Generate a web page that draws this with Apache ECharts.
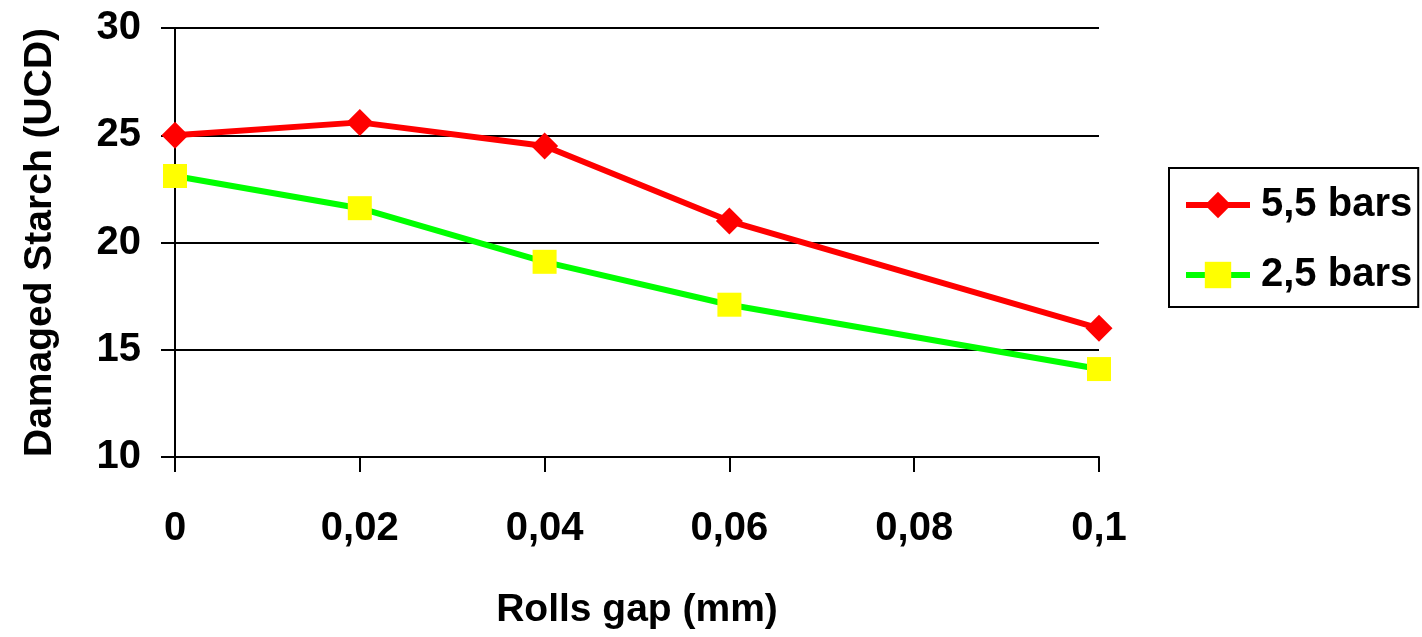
<!DOCTYPE html>
<html>
<head>
<meta charset="utf-8">
<script src="https://cdn.jsdelivr.net/npm/echarts@6/dist/echarts.min.js"></script>
<style>html,body{margin:0;padding:0;background:#fff}#c{width:1422px;height:637px}</style>
</head>
<body>
<div id="c"></div>
<script>
const gaps = [0, 0.02, 0.04, 0.06, 0.1];
const bars55 = [25.0, 25.6, 24.5, 21.0, 16.0];
const bars25 = [23.1, 21.6, 19.1, 17.1, 14.1];
const seriesNames = ['5,5 bars', '2,5 bars'];
const xTitle = 'Rolls gap (mm)';
const yTitle = 'Damaged Starch (UCD)';

const FONT = '"Liberation Sans Narrow", "Liberation Sans", Arial, sans-serif';
const chart = echarts.init(document.getElementById('c'), null, {renderer: 'canvas'});
chart.setOption({
  animation: false,
  backgroundColor: '#fff',
  grid: {left: 175, right: 323, top: 28, bottom: 180, containLabel: false, outerBoundsMode: 'none'},
  xAxis: {
    type: 'value', min: 0, max: 0.1, interval: 0.02,
    name: xTitle, nameLocation: 'middle', nameGap: 134,
    nameTextStyle: {fontFamily: FONT, fontWeight: 'bold', fontSize: 39, color: '#000'},
    axisLine: {lineStyle: {color: '#000', width: 2}},
    axisTick: {show: true, length: 15, lineStyle: {color: '#000', width: 2}},
    axisLabel: {fontFamily: FONT, fontWeight: 'bold', fontSize: 40, color: '#000', margin: 52,
      formatter: v => String(+v.toFixed(2)).replace('.', ',')},
    splitLine: {show: false}
  },
  yAxis: {
    type: 'value', min: 10, max: 30, interval: 5,
    name: yTitle, nameLocation: 'middle', nameGap: 115, nameRotate: 90,
    nameTextStyle: {fontFamily: FONT, fontWeight: 'bold', fontSize: 39, color: '#000'},
    axisLine: {show: true, lineStyle: {color: '#000', width: 2}},
    axisTick: {show: true, length: 14, lineStyle: {color: '#000', width: 2}},
    axisLabel: {fontFamily: FONT, fontWeight: 'bold', fontSize: 40, color: '#000', margin: 34},
    splitLine: {show: true, lineStyle: {color: '#000', width: 2}}
  },
  legend: {
    orient: 'vertical', left: 1169, top: 168,
    padding: [17, 6, 12, 14], itemGap: 30,
    itemWidth: 64, itemHeight: 33,
    borderColor: '#000', borderWidth: 2,
    lineStyle: {width: 6},
    textStyle: {fontFamily: FONT, fontWeight: 'bold', fontSize: 40, color: '#000', padding: [0, 0, 0, 6]},
    data: seriesNames
  },
  series: [
    {name: seriesNames[0], type: 'line', data: gaps.map((g, i) => [g, bars55[i]]),
     symbol: 'diamond', symbolSize: [27, 27], showSymbol: true,
     lineStyle: {color: '#ff0000', width: 6}, itemStyle: {color: '#ff0000'}, z: 3},
    {name: seriesNames[1], type: 'line', data: gaps.map((g, i) => [g, bars25[i]]),
     symbol: 'rect', symbolSize: [24, 24], showSymbol: true,
     lineStyle: {color: '#00ff00', width: 6}, itemStyle: {color: '#ffff00'}, z: 2}
  ]
});
</script>
</body>
</html>
